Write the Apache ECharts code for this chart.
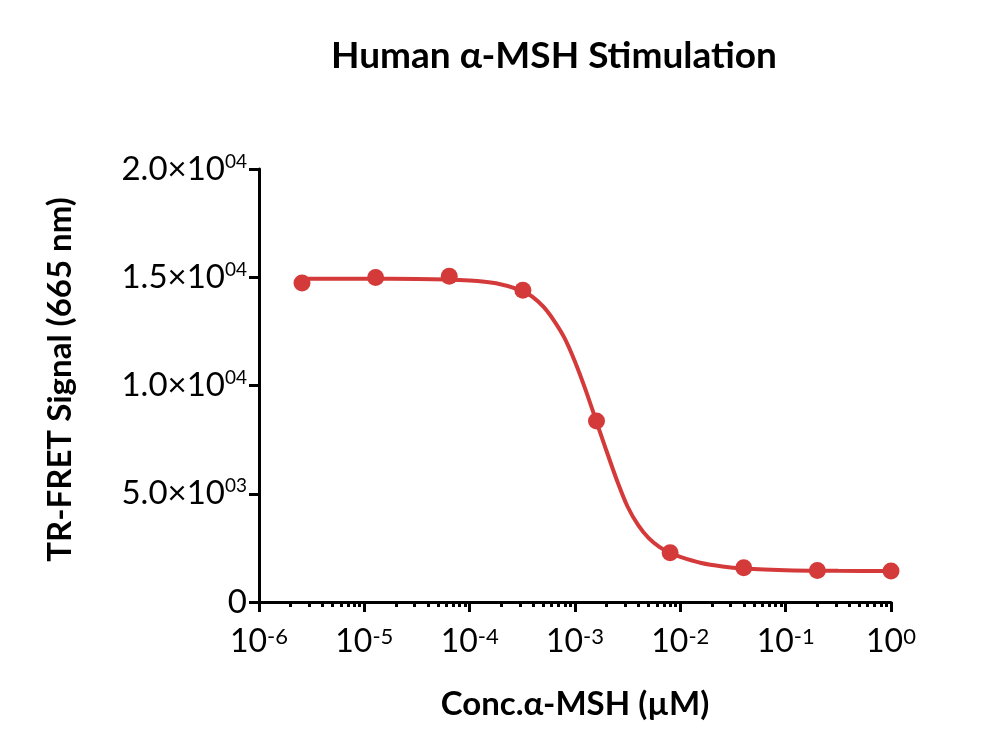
<!DOCTYPE html>
<html>
<head>
<meta charset="utf-8">
<script src="https://cdn.jsdelivr.net/npm/echarts@6/dist/echarts.min.js"></script>
<style>
  html, body { margin: 0; padding: 0; background: #fff; }
  #chart { width: 1000px; height: 752px; }
</style>
</head>
<body>
<div id="chart"></div>
<script>
// measured points (conc in uM, signal)
var concs = [2.56e-6, 1.28e-5, 6.4e-5, 3.2e-4, 1.6e-3, 8e-3, 0.04, 0.2, 1];
var signal = [14730, 14990, 15050, 14400, 8360, 2280, 1580, 1450, 1430];

// fitted curve
var curveX = [2.56e-6, 1e-5, 3.16e-5, 1e-4, 1.78e-4, 3.16e-4, 3.98e-4, 5.01e-4, 6.31e-4, 7.94e-4,
  1e-3, 1.26e-3, 1.58e-3, 2e-3, 2.51e-3, 3.16e-3, 3.98e-3, 5.01e-3, 6.31e-3, 7.94e-3,
  1e-2, 1.58e-2, 2.51e-2, 3.98e-2, 1e-1, 3.16e-1, 1];
var curveY = [14930, 14930, 14920, 14850, 14720, 14380, 14080, 13640, 13000, 12200,
  11100, 9800, 8400, 6950, 5600, 4400, 3550, 2950, 2550, 2280,
  2080, 1800, 1640, 1550, 1470, 1440, 1430];

// tick labels
var yTicks = [0, 5000, 10000, 15000, 20000];
var yMant = ['0', '5.0\u00d710', '1.0\u00d710', '1.5\u00d710', '2.0\u00d710'];
var yExp = ['', '03', '04', '04', '04'];
var xTicks = [1e-6, 1e-5, 1e-4, 1e-3, 1e-2, 1e-1, 1];
var xExp = ['-6', '-5', '-4', '-3', '-2', '-1', '0'];

var minorTicks = [];
for (var d = -6; d < 0; d++) {
  for (var k = 2; k <= 9; k++) minorTicks.push(k * Math.pow(10, d));
}

var red = '#d43a3a';
var font = 'Lato';

var chartDom = document.getElementById('chart');
var myChart = echarts.init(chartDom);
var option;

option = {
    animation: false,
    title: {
        text: 'Human \u03b1-MSH Stimulation',
        left: 326,
        top: 33,
        textStyle: { fontFamily: font, fontWeight: 'bold', fontSize: 37, color: '#000' }
    },
    grid: { left: 259, right: 109, top: 169, bottom: 150 },
    xAxis: [{
        type: 'log',
        min: 1e-6,
        max: 1,
        position: 'bottom',
        name: 'Conc.\u03b1-MSH (\u00b5M)',
        nameLocation: 'middle',
        nameGap: 86,
        nameTextStyle: { fontFamily: font, fontWeight: 'bold', fontSize: 33, color: '#000' },
        axisLine: { onZero: false, lineStyle: { color: '#000', width: 3 } },
        axisTick: { customValues: xTicks, length: 10, lineStyle: { color: '#000', width: 3 } },
        axisLabel: {
            customValues: xTicks,
            margin: 24,
            formatter: function (v) {
                var i = xTicks.indexOf(v);
                if (i < 0) i = Math.round(Math.log10(v)) + 6;
                return '{b|10}{s|' + xExp[i] + '}';
            },
            rich: {
                b: { fontFamily: font, fontSize: 32, color: '#000', lineHeight: 32 },
                s: { fontFamily: font, fontSize: 22, color: '#000', verticalAlign: 'top', lineHeight: 22 }
            }
        },
        splitLine: { show: false }
    }, {
        type: 'log',
        min: 1e-6,
        max: 1,
        position: 'bottom',
        axisLine: { show: false },
        axisTick: { customValues: minorTicks, length: 5, lineStyle: { color: '#000', width: 3 } },
        axisLabel: { show: false },
        splitLine: { show: false }
    }],
    yAxis: {
        type: 'value',
        min: 0,
        max: 20000,
        interval: 5000,
        name: 'TR-FRET Signal (665 nm)',
        nameLocation: 'middle',
        nameGap: 182,
        nameTextStyle: { fontFamily: font, fontWeight: 'bold', fontSize: 33, color: '#000', padding: [0, 0, 0, 12] },
        axisLine: { show: true, lineStyle: { color: '#000', width: 3 } },
        axisTick: { show: true, length: 10, lineStyle: { color: '#000', width: 3 } },
        axisLabel: {
            margin: 12,
            formatter: function (v) {
                var i = yTicks.indexOf(v);
                if (yExp[i] === '') return '{b|' + yMant[i] + '}';
                return '{b|' + yMant[i] + '}{s|' + yExp[i] + '}';
            },
            rich: {
                b: { fontFamily: font, fontSize: 33, color: '#000', lineHeight: 34 },
                s: { fontFamily: font, fontSize: 19, color: '#000', verticalAlign: 'top', lineHeight: 20 }
            }
        },
        splitLine: { show: false }
    },
    series: [{
        name: 'fit',
        type: 'line',
        smooth: 0.3,
        showSymbol: false,
        z: 2,
        lineStyle: { color: red, width: 4 },
        data: curveX.map(function (x, i) { return [x, curveY[i]]; })
    }, {
        name: 'data',
        type: 'scatter',
        symbolSize: 17,
        z: 3,
        itemStyle: { color: red, opacity: 1 },
        data: concs.map(function (x, i) { return [x, signal[i]]; })
    }]
};
option && myChart.setOption(option);
</script>
</body>
</html>
